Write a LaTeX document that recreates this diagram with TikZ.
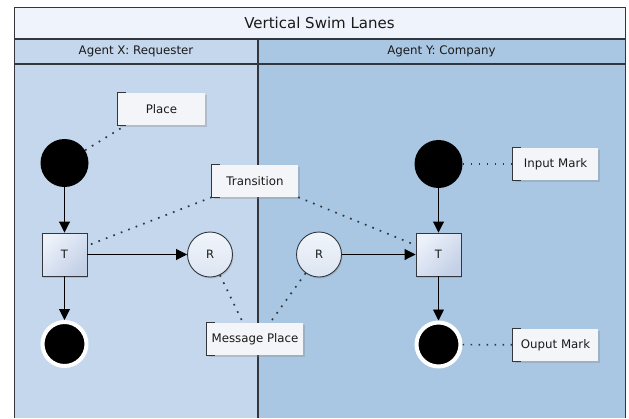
\documentclass[tikz,border=0pt]{standalone}
\usepackage{fontspec}
\setmainfont{DejaVu Sans}
\usepackage{xcolor}
\usetikzlibrary{arrows.meta,shapes,shadows,calc}
\definecolor{titlefill}{HTML}{EEF3FC}
\definecolor{lanex}{HTML}{C4D7ED}
\definecolor{laney}{HTML}{A9C7E2}
\definecolor{notefill}{HTML}{F4F5F8}
\definecolor{linegray}{HTML}{33373D}
\definecolor{tlight}{HTML}{EDF2FA}
\definecolor{tdark}{HTML}{C3D0E6}
\definecolor{rlight}{HTML}{F1F5FB}
\definecolor{rdark}{HTML}{DCE5F2}
\definecolor{inktext}{HTML}{1A1A1A}
\newcommand{\titlefont}{\fontsize{15}{18}\selectfont}
\newcommand{\headfont}{\fontsize{11.8}{14}\selectfont}
\newcommand{\notefont}{\fontsize{11.8}{14}\selectfont}
\tikzset{
    token/.style = {circle, fill = black, minimum size = 48pt, inner sep = 0pt},
    outtoken/.style = {circle, fill = black, draw = white, line width = 4pt, minimum size = 44pt, inner sep = 0pt,
        drop shadow = {shadow xshift = .6pt, shadow yshift = -.8pt, opacity = .3}},
    tbox/.style = {rectangle, draw = linegray, line width = .9pt, minimum width = 45pt, minimum height = 43pt,
        top color = tlight, bottom color = tdark, shading angle = 45, text = inktext, font = \fontsize{11.5}{13}\selectfont,
        drop shadow = {shadow xshift = 1pt, shadow yshift = -1.5pt, opacity = .3}},
    rplace/.style = {circle, draw = linegray, line width = .9pt, minimum size = 45pt, inner sep = 0pt,
        top color = rlight, bottom color = rdark, text = inktext, font = \fontsize{11.5}{13}\selectfont,
        drop shadow = {shadow xshift = 1pt, shadow yshift = -1.5pt, opacity = .3}},
    note/.style = {rectangle, fill = notefill, minimum width = #1, minimum height = 32pt, inner sep = 0pt,
        text = inktext, font = \notefont, drop shadow = {shadow xshift = 1.5pt, shadow yshift = -1.5pt, opacity = .3}},
    bracket/.style = {linegray, line width = .9pt},
    flow/.style = {line width = .9pt, black, -{Triangle[length = 11pt, width = 11pt]}},
    link/.style = {linegray, line width = 1.7pt, dash pattern = on 1.7pt off 6.3pt}
}

\begin{document}
\begin{tikzpicture}[x = 1pt, y = -1pt]
    \useasboundingbox (0,0) rectangle (629,418);
    % Swim lanes
    \fill[white] (0,0) rectangle (629,418);
    \fill[titlefill] (14,7) rectangle (625,39);
    \fill[lanex] (14,39) rectangle (258,418);
    \fill[laney] (258,39) rectangle (625,418);
    \draw[linegray, line width = 1pt] (14,418) -- (14,7) -- (625,7) -- (625,418);
    \draw[linegray, line width = 1.2pt] (14,39) -- (625,39);
    \draw[linegray, line width = 1.2pt] (14,64) -- (625,64);
    \draw[linegray, line width = 1.2pt] (258,39) -- (258,418);
    \node[font = \titlefont, text = inktext] (title) at (319.5,23) {Vertical Swim Lanes};
    \node[font = \headfont, text = inktext] (headX) at (136,51.5) {Agent X: Requester};
    \node[font = \headfont, text = inktext] (headY) at (441.5,51.5) {Agent Y: Company};
    % Agent X
    \node[token] (inX) at (64.5,163) {};
    \node[tbox] (tX) at (64.5,254.5) {T};
    \node[rplace] (rX) at (210,254.5) {R};
    \node[outtoken] (outX) at (64.5,344) {};
    % Agent Y
    \node[token] (inY) at (438.5,164) {};
    \node[tbox] (tY) at (438.5,254.5) {T};
    \node[rplace] (rY) at (319,254.5) {R};
    \node[outtoken] (outY) at (438.5,344.5) {};
    % Flow
    \draw[flow] (inX) -- (tX);
    \draw[flow] (tX) -- (outX);
    \draw[flow] (tX) -- (rX);
    \draw[flow] (rY) -- (tY);
    \draw[flow] (inY) -- (tY);
    \draw[flow] (tY) -- (outY);
    % Notes
    \node[note = 87pt] (place) at (161.5,109) {Place};
    \node[note = 86pt] (trans) at (255,181) {Transition};
    \node[note = 96pt] (msg) at (255,339) {Message Place};
    \node[note = 85pt] (inmark) at (555.5,164) {Input Mark};
    \node[note = 85pt] (outmark) at (555.5,345) {Ouput Mark};
    \foreach \n in {place,trans,msg,inmark,outmark}
        \draw[bracket] ([xshift = 8pt]\n.north west) -| (\n.south west) -- ++(8pt,0);
    \draw[link] (inX) -- ([xshift = 8pt]place.south west);
    \draw[link] (trans.south west) -- (tX);
    \draw[link] (trans.south east) -- (tY);
    \draw[link] (rX) -- ([xshift = -12pt]msg.north);
    \draw[link] (rY) -- ([xshift = 15pt]msg.north);
    \draw[link] (inY) -- (inmark);
    \draw[link] (outY) -- (outmark);
\end{tikzpicture}
\end{document}
